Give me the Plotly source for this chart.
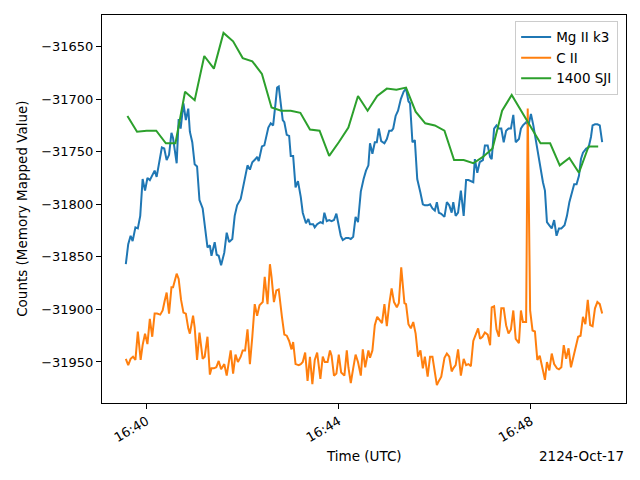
import datetime as dt
import plotly.graph_objects as go

# ---------------- data (seconds after 2124-10-17 16:40:00 UTC) ----------------
mg_t = [-26, -23, -20, -17.5, -14, -11, -8, -5, -2, 1, 4, 7, 10, 12.5, 15, 19, 22, 25, 28, 31, 33, 35, 37.5, 40,
        42.5, 46, 49, 52, 54, 57, 60, 63, 66, 70, 72.5, 76, 79, 81, 85, 87.5, 90, 93, 97, 100, 103, 107, 110, 113,
        117.5, 122, 126, 129, 132, 136, 138, 140, 144, 147, 150, 152, 155, 158, 161, 163, 165, 167.5, 170, 172,
        175, 178, 180, 183, 186, 189, 192.5, 195, 199, 202, 204, 208, 210, 213, 217, 220, 222, 225, 228, 231, 234,
        237, 240, 242.5, 245, 249, 252, 255, 258, 261, 264, 267.5, 271, 274, 277, 279, 282, 285, 287.5, 290, 293,
        297, 300, 303, 306, 308, 311, 314, 317.5, 321, 324, 327, 329, 332, 335, 338, 342, 345, 347.5, 351, 354,
        357, 360, 362.5, 365, 368, 372, 375, 378, 381, 383, 386, 389, 392.5, 396, 399, 402, 405, 408, 410, 413,
        416, 420, 422.5, 426, 429, 431, 434, 437, 440, 443, 446, 449, 452, 455, 458, 461, 465, 467.5, 470, 474,
        477, 480, 483, 486, 490, 492, 495, 497.5, 500, 503, 506, 509, 512, 515, 518, 522, 525, 528, 531, 534, 537,
        540, 542.5, 545, 549, 552, 555, 557, 560, 563, 566, 569]
mg_v = [-31857, -31838, -31830, -31835, -31822, -31823, -31811, -31776, -31787, -31775, -31777, -31772, -31768,
        -31774, -31762, -31746, -31747, -31758, -31753, -31732, -31737, -31746, -31761, -31719, -31728, -31704,
        -31720, -31709, -31731, -31741, -31762, -31764, -31796, -31804, -31819, -31841, -31839, -31849, -31836,
        -31848, -31849, -31858, -31846, -31827, -31836, -31833, -31811, -31801, -31795, -31777, -31763, -31767,
        -31760, -31757, -31755, -31759, -31745, -31744, -31735, -31727, -31723, -31725, -31704, -31689, -31688,
        -31706, -31720, -31722, -31734, -31735, -31754, -31754, -31784, -31778, -31793, -31808, -31818, -31814,
        -31819, -31819, -31822, -31819, -31817, -31818, -31808, -31816, -31815, -31816, -31815, -31809, -31822,
        -31830, -31834, -31832, -31832, -31833, -31831, -31812, -31817, -31788, -31776, -31768, -31763, -31742,
        -31752, -31741, -31741, -31728, -31740, -31742, -31738, -31730, -31730, -31728, -31716, -31711, -31700,
        -31693, -31690, -31702, -31704, -31741, -31739, -31776, -31789, -31800, -31801, -31801, -31800, -31804,
        -31806, -31798, -31808, -31809, -31812, -31798, -31801, -31808, -31798, -31811, -31808, -31787, -31811,
        -31777, -31777, -31778, -31779, -31757, -31770, -31760, -31758, -31744, -31744, -31755, -31757, -31728,
        -31725, -31728, -31728, -31741, -31730, -31728, -31728, -31715, -31741, -31738, -31728, -31725, -31722,
        -31725, -31714, -31725, -31739, -31754, -31766, -31779, -31787, -31817, -31820, -31823, -31815, -31830,
        -31823, -31823, -31820, -31811, -31798, -31789, -31781, -31781, -31773, -31757, -31751, -31747, -31746,
        -31736, -31725, -31724, -31724, -31725, -31741]

c2_t = [-26, -23, -20, -17, -14, -11, -7.5, -5, -2, 1, 4, 7, 10, 13, 17, 20, 22.5, 25, 28, 31, 33, 35, 37.5, 40,
        43, 46, 49, 52, 54, 58, 60, 63, 66, 70, 72.5, 76, 79, 81, 84, 87, 90, 93, 97, 100, 105, 108, 111, 114,
        117.5, 120, 123, 126, 129, 132, 135, 138, 141, 145, 147.5, 151, 154, 156, 159, 162, 165, 169, 172, 175,
        178, 181, 183, 186, 190, 192.5, 195, 198, 201, 204, 207, 210, 213, 217, 220, 222.5, 226, 229, 231, 234,
        237, 240, 243, 247, 250, 252, 255, 258, 261, 264, 267.5, 270, 273, 277, 279, 282, 285, 288, 291, 294, 297,
        300, 303, 306, 309, 312.5, 315, 318, 322, 324, 327, 330, 333, 336, 339, 342, 345, 347.5, 351, 354, 357,
        360, 362.5, 365, 368, 372, 375, 378, 381, 383, 386, 389, 392.5, 396, 399, 402, 405, 408, 411, 414, 416.5,
        419.5, 422.5, 426, 429, 431, 434, 437, 440, 443, 446, 449, 452, 455, 458, 461, 465, 467.5, 470, 474, 476,
        479, 482, 485, 488, 491, 495, 497.5, 500, 503, 506, 509, 512.5, 515, 518, 521, 524, 527, 530, 533, 536,
        539, 542, 545, 548, 551, 554, 557, 560, 563, 566, 569]
c2_v = [-31947, -31953, -31947, -31945, -31948, -31921, -31948, -31934, -31923, -31933, -31909, -31926, -31904,
        -31904, -31905, -31901, -31892, -31884, -31904, -31879, -31879, -31874, -31866, -31871, -31891, -31903,
        -31904, -31918, -31923, -31906, -31917, -31948, -31922, -31947, -31945, -31926, -31962, -31956, -31956,
        -31955, -31949, -31957, -31952, -31963, -31939, -31961, -31943, -31950, -31945, -31939, -31939, -31919,
        -31952, -31926, -31895, -31906, -31896, -31893, -31869, -31895, -31857, -31869, -31893, -31882, -31881,
        -31907, -31924, -31925, -31930, -31938, -31931, -31952, -31953, -31952, -31950, -31941, -31968, -31945,
        -31971, -31948, -31941, -31966, -31945, -31950, -31950, -31939, -31944, -31963, -31961, -31943, -31960,
        -31963, -31939, -31955, -31970, -31956, -31943, -31950, -31963, -31938, -31955, -31939, -31946, -31939,
        -31915, -31907, -31910, -31913, -31895, -31916, -31895, -31880, -31893, -31898, -31894, -31860, -31894,
        -31895, -31914, -31918, -31912, -31923, -31945, -31939, -31956, -31945, -31964, -31945, -31945, -31958,
        -31972, -31968, -31964, -31946, -31942, -31945, -31959, -31956, -31953, -31938, -31963, -31947, -31953,
        -31952, -31954, -31930, -31923, -31918, -31928, -31926, -31922, -31924, -31934, -31898, -31897, -31919,
        -31926, -31899, -31899, -31915, -31923, -31919, -31901, -31928, -31932, -31901, -31912, -31912, -31709,
        -31901, -31920, -31921, -31948, -31944, -31958, -31967, -31950, -31958, -31942, -31952, -31956, -31957,
        -31955, -31934, -31947, -31937, -31955, -31945, -31937, -31926, -31925, -31907, -31914, -31891, -31915,
        -31916, -31899, -31893, -31895, -31904]

sji_t = [-24, -12, 0, 12, 24, 36, 48, 60, 72, 84, 96, 108, 120, 132, 144, 156, 168, 180, 192, 204, 216, 228, 240,
         252, 264, 276, 288, 300, 312, 324, 336, 348, 360, 372, 384, 396, 408, 420, 432, 444, 456, 468, 480, 492,
         504, 516, 528, 540, 552, 564]
sji_v = [-31716, -31731, -31730, -31730, -31742, -31742, -31693, -31701, -31659, -31671, -31637, -31645, -31661,
         -31664, -31676, -31708, -31711, -31711, -31713, -31729, -31730, -31754, -31741, -31727, -31697, -31711,
         -31697, -31690, -31691, -31689, -31712, -31723, -31725, -31730, -31758, -31758, -31761, -31755, -31747,
         -31711, -31696, -31711, -31727, -31742, -31742, -31763, -31756, -31770, -31745, -31745]

y_tick_vals = [-31650, -31700, -31750, -31800, -31850, -31900, -31950]
y_tick_text = ["\u221231650", "\u221231700", "\u221231750", "\u221231800", "\u221231850", "\u221231900", "\u221231950"]
x_tick_text = ["16:40", "16:44", "16:48"]
x_tick_secs = [0, 240, 480]

base = dt.datetime(2124, 10, 17, 16, 40, 0)


def to_time(secs):
    return [base + dt.timedelta(seconds=s) for s in secs]


FONT = "DejaVu Sans"
fig = go.Figure()
fig.add_trace(go.Scatter(x=to_time(mg_t), y=mg_v, mode="lines", name="Mg II k3",
                         line=dict(color="#1f77b4", width=2)))
fig.add_trace(go.Scatter(x=to_time(c2_t), y=c2_v, mode="lines", name="C II",
                         line=dict(color="#ff7f0e", width=2)))
fig.add_trace(go.Scatter(x=to_time(sji_t), y=sji_v, mode="lines", name="1400 SJI",
                         line=dict(color="#2ca02c", width=2)))

fig.update_layout(
    width=640, height=480,
    margin=dict(l=102, r=14, t=15, b=77),
    paper_bgcolor="white", plot_bgcolor="white",
    font=dict(family=FONT, size=13, color="black"),
    showlegend=True,
    legend=dict(x=0.985, y=0.985, xanchor="right", yanchor="top",
                bgcolor="rgba(255,255,255,0.8)", bordercolor="#cccccc", borderwidth=1,
                font=dict(family=FONT, size=13.5), tracegroupgap=0, itemwidth=30),
    xaxis=dict(
        range=[base + dt.timedelta(seconds=-55.75), base + dt.timedelta(seconds=598.75)],
        tickmode="array", tickvals=to_time(x_tick_secs), ticktext=x_tick_text,
        tickangle=-30, ticks="outside", ticklen=5, tickwidth=1, tickcolor="black",
        showline=True, linecolor="black", linewidth=1, mirror=True,
        showgrid=False, zeroline=False, tickfont=dict(family=FONT, size=13),
    ),
    yaxis=dict(
        range=[-31989, -31620],
        tickmode="array", tickvals=y_tick_vals, ticktext=y_tick_text,
        ticks="outside", ticklen=5, tickwidth=1, tickcolor="black",
        showline=True, linecolor="black", linewidth=1, mirror=True,
        showgrid=False, zeroline=False, tickfont=dict(family=FONT, size=13),
    ),
    annotations=[
        dict(text="Time (UTC)", xref="paper", yref="paper", x=0.5, y=-0.137,
             xanchor="center", yanchor="middle", showarrow=False, font=dict(family=FONT, size=13.5)),
        dict(text="2124-Oct-17", xref="paper", yref="paper", x=1.0, y=-0.137,
             xanchor="right", yanchor="middle", showarrow=False, font=dict(family=FONT, size=13.5)),
        dict(text="Counts (Memory Mapped Value)", xref="paper", yref="paper", x=-0.153, y=0.5,
             xanchor="center", yanchor="middle", textangle=-90, showarrow=False,
             font=dict(family=FONT, size=13.5)),
    ],
)

fig.write_html("out.html")
